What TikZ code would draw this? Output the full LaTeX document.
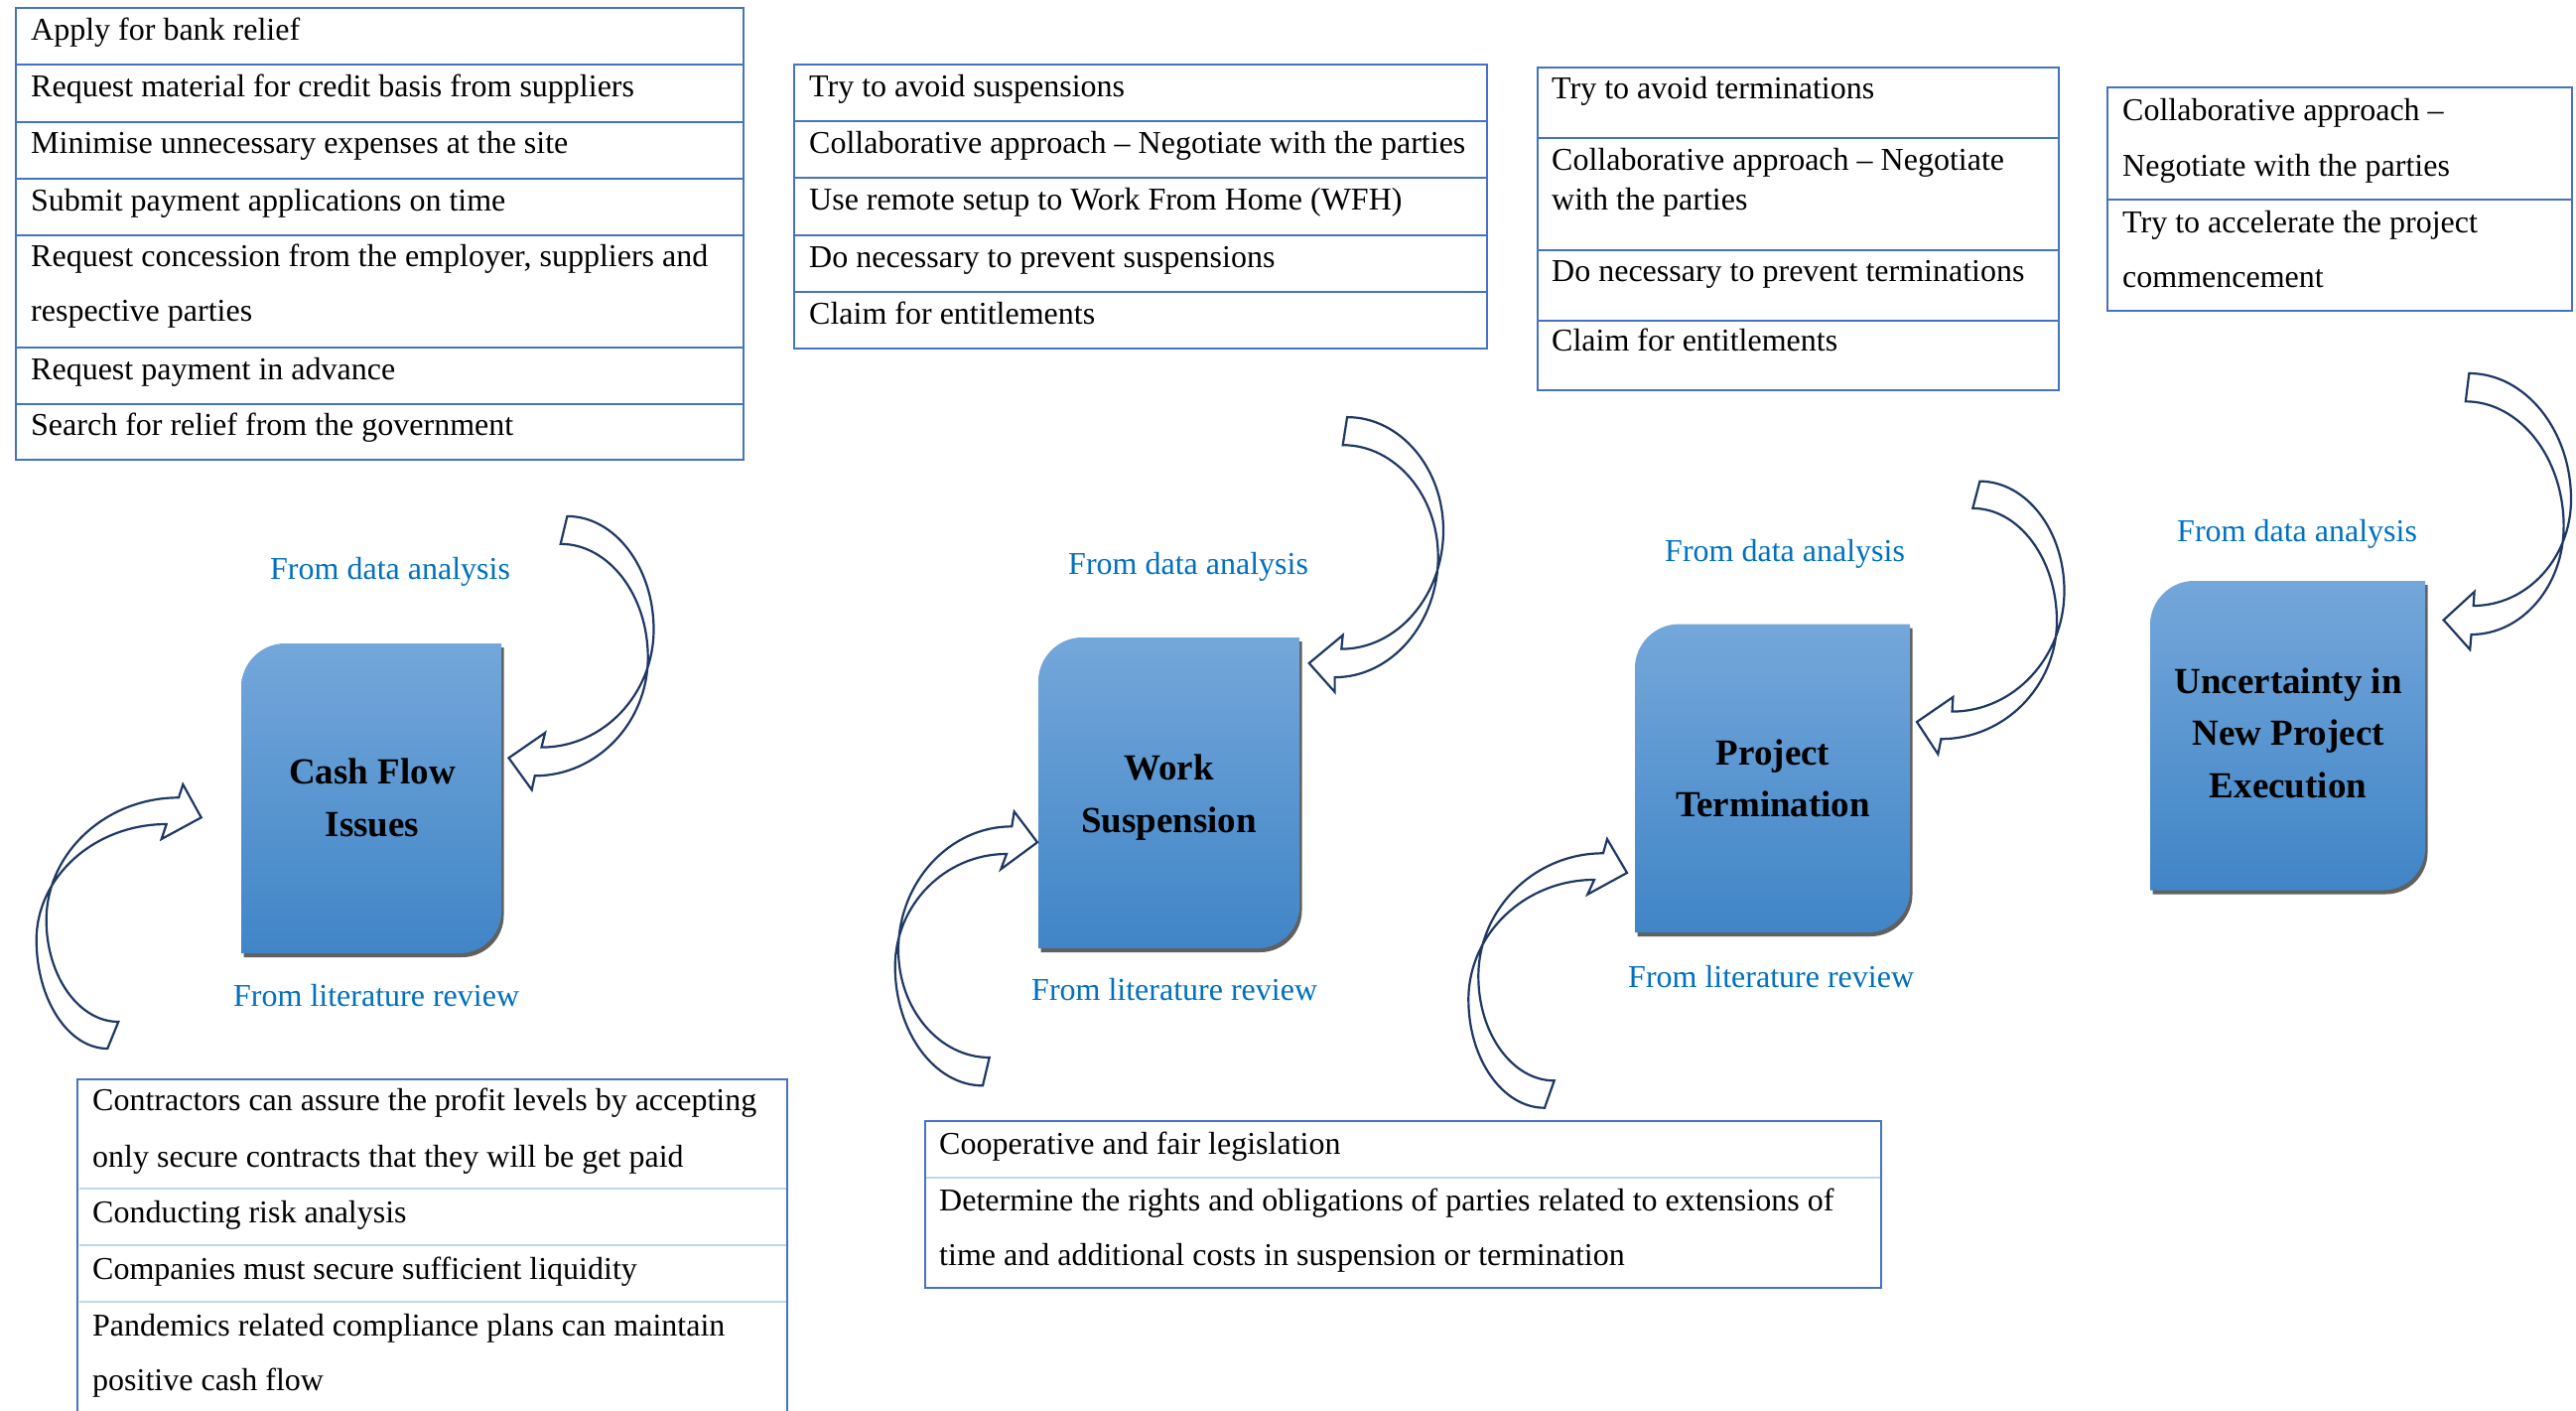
\documentclass[tikz,border=0pt]{standalone}
\usepackage{fontspec}
\setmainfont{Liberation Serif}
\usetikzlibrary{calc}

\definecolor{tblue}{RGB}{68,114,196}
\definecolor{tpale}{RGB}{189,215,238}
\definecolor{lblue}{RGB}{0,112,192}
\definecolor{navy}{RGB}{31,56,100}
\definecolor{btop}{RGB}{116,167,218}
\definecolor{bbot}{RGB}{64,133,199}
\definecolor{shadowgray}{RGB}{96,96,96}

\tikzset{
  celltext/.style={anchor=base west, inner sep=0pt, yshift=-3pt, font=\fontsize{32}{38}\selectfont},
  srclabel/.style={anchor=base west, inner sep=0pt, yshift=-2.5pt, text=lblue, font=\fontsize{32}{38}\selectfont},
  boxtitle/.style={anchor=base, inner sep=0pt, yshift=-2pt, font=\fontsize{37}{44}\selectfont\bfseries},
  frame/.style={draw=tblue, line width=2pt},
  paleline/.style={draw=tpale, line width=2pt},
  curvearrow/.style={draw=navy, line width=2.2pt, line join=miter},
}

% blue issue box: rounded top-left and bottom-right corners, with a drop shadow
% #1,#2 = top-left corner, #3,#4 = bottom-right corner (y grows downwards)
\newcommand\issuebox[4]{%
  \fill[shadowgray, shift={(2.5,4)}]
    (#1,#4) -- (#1,#2+44) .. controls (#1,#2+20) and (#1+20,#2) .. (#1+44,#2)
    -- (#3,#2) -- (#3,#4-42) .. controls (#3,#4-19) and (#3-19,#4) .. (#3-42,#4) -- cycle;
  \shade[top color=btop, bottom color=bbot]
    (#1,#4) -- (#1,#2+44) .. controls (#1,#2+20) and (#1+20,#2) .. (#1+44,#2)
    -- (#3,#2) -- (#3,#4-42) .. controls (#3,#4-19) and (#3-19,#4) .. (#3-42,#4) -- cycle;
}

% hollow curved block arrow
% tail points, outermost points of both edges, shaft joints, barbs and tip
\newcommand\kk{0.55}
\newcommand\curvedarrow[9]{%
  \coordinate (t1) at (#1); \coordinate (t2) at (#2);
  \coordinate (p1) at (#3); \coordinate (p2) at (#4);
  \coordinate (s1) at (#5); \coordinate (b1) at (#6);
  \coordinate (tp) at (#7); \coordinate (b2) at (#8);
  \coordinate (s2) at (#9);
  \coordinate (k1) at (p1|-t1); \coordinate (k2) at (p1|-s1);
  \coordinate (k3) at (p2|-s2); \coordinate (k4) at (p2|-t2);
  \draw[curvearrow] (t1)
    .. controls ($(t1)!\kk!(k1)$) and ($(p1)!\kk!(k1)$) .. (p1)
    .. controls ($(p1)!\kk!(k2)$) and ($(s1)!\kk!(k2)$) .. (s1)
    -- (b1) -- (tp) -- (b2) -- (s2)
    .. controls ($(s2)!\kk!(k3)$) and ($(p2)!\kk!(k3)$) .. (p2)
    .. controls ($(p2)!\kk!(k4)$) and ($(t2)!\kk!(k4)$) .. (t2) -- cycle;
}

\begin{document}
\begin{tikzpicture}[x=1pt, y=-1pt]
\useasboundingbox (0,0) rectangle (2595,1421);
\fill[white] (0,0) rectangle (2595,1421);

% ---------- measures for cash flow issues ----------
\draw[frame] (16,8.3) rectangle (749,463.3);
\foreach \y in {65,122.7,180,236.7,350,406.7} \draw[frame] (16,\y) -- (749,\y);
\node[celltext] (cf1)  at (31,37.3)  {Apply for bank relief};
\node[celltext] (cf2)  at (31,94)    {Request material for credit basis from suppliers};
\node[celltext] (cf3)  at (31,151.7) {Minimise unnecessary expenses at the site};
\node[celltext] (cf4)  at (31,209)   {Submit payment applications on time};
\node[celltext] (cf5a) at (31,265.7) {Request concession from the employer, suppliers and};
\node[celltext] (cf5b) at (31,320.7) {respective parties};
\node[celltext] (cf6)  at (31,379)   {Request payment in advance};
\node[celltext] (cf7)  at (31,435.7) {Search for relief from the government};

% ---------- measures for work suspension ----------
\draw[frame] (800,65) rectangle (1498,350.7);
\foreach \y in {121.7,179.3,236.7,294.3} \draw[frame] (800,\y) -- (1498,\y);
\node[celltext] (ws1) at (815,94.5)  {Try to avoid suspensions};
\node[celltext] (ws2) at (815,151.2) {Collaborative approach -- Negotiate with the parties};
\node[celltext] (ws3) at (815,208.8) {Use remote setup to Work From Home (WFH)};
\node[celltext] (ws4) at (815,266.2) {Do necessary to prevent suspensions};
\node[celltext] (ws5) at (815,323.8) {Claim for entitlements};

% ---------- measures for project termination ----------
\draw[frame] (1549,67.7) rectangle (2074,393.3);
\foreach \y in {139,251.7,322.7} \draw[frame] (1549,\y) -- (2074,\y);
\node[celltext] (pt1)  at (1563,96.5)  {Try to avoid terminations};
\node[celltext] (pt2a) at (1563,168.2) {Collaborative approach -- Negotiate};
\node[celltext] (pt2b) at (1563,208.2) {with the parties};
\node[celltext] (pt3)  at (1563,280)   {Do necessary to prevent terminations};
\node[celltext] (pt4)  at (1563,350.5) {Claim for entitlements};

% ---------- measures for new project execution ----------
\draw[frame] (2123,88.3) rectangle (2591,312.7);
\draw[frame] (2123,200.7) -- (2591,200.7);
\node[celltext] (np1a) at (2138,118.7) {Collaborative approach --};
\node[celltext] (np1b) at (2138,174.5) {Negotiate with the parties};
\node[celltext] (np2a) at (2138,231.5) {Try to accelerate the project};
\node[celltext] (np2b) at (2138,286.5) {commencement};

% ---------- literature measures, cash flow ----------
\draw[frame] (78.4,1430) -- (78.4,1086.7) -- (793,1086.7) -- (793,1430);
\foreach \y in {1197,1254,1311} \draw[paleline] (79.5,\y) -- (792,\y);
\node[celltext] (lc1a) at (93,1115)   {Contractors can assure the profit levels by accepting};
\node[celltext] (lc1b) at (93,1172)   {only secure contracts that they will be get paid};
\node[celltext] (lc2)  at (93,1228.7) {Conducting risk analysis};
\node[celltext] (lc3)  at (93,1285)   {Companies must secure sufficient liquidity};
\node[celltext] (lc4a) at (93,1342)   {Pandemics related compliance plans can maintain};
\node[celltext] (lc4b) at (93,1397)   {positive cash flow};

% ---------- literature measures, suspension and termination ----------
\draw[frame] (931.7,1129.3) rectangle (1895,1297.3);
\draw[paleline] (933,1186) -- (1894,1186);
\node[celltext] (ls1)  at (946,1159.3) {Cooperative and fair legislation};
\node[celltext] (ls2a) at (946,1216)   {Determine the rights and obligations of parties related to extensions of};
\node[celltext] (ls2b) at (946,1271)   {time and additional costs in suspension or termination};

% ---------- issue boxes ----------
\issuebox{243}{648}{505}{960}
\node[boxtitle] (cash1) at (375,787) {Cash Flow};
\node[boxtitle] (cash2) at (375,840) {Issues};

\issuebox{1046}{642}{1309}{955}
\node[boxtitle] (work1) at (1177.5,783) {Work};
\node[boxtitle] (work2) at (1177.5,836) {Suspension};

\issuebox{1647}{628.6}{1924}{939}
\node[boxtitle] (term1) at (1786,768.3) {Project};
\node[boxtitle] (term2) at (1786,820.5) {Termination};

\issuebox{2166}{585}{2443}{896.5}
\node[boxtitle] (unc1) at (2305,696) {Uncertainty in};
\node[boxtitle] (unc2) at (2305,748) {New Project};
\node[boxtitle] (unc3) at (2305,801) {Execution};

% ---------- source labels ----------
\node[srclabel] (da1) at (272,581)    {From data analysis};
\node[srclabel] (lr1) at (235,1011)   {From literature review};
\node[srclabel] (da2) at (1076,576)   {From data analysis};
\node[srclabel] (lr2) at (1039,1005)  {From literature review};
\node[srclabel] (da3) at (1677,563)   {From data analysis};
\node[srclabel] (lr3) at (1640,991.5) {From literature review};
\node[srclabel] (da4) at (2193,543)   {From data analysis};

% ---------- curved arrows ----------
% from data analysis (enter from the right)
\curvedarrow{571.4,519.9}{564.7,547.8}{658.5,634}{652.7,662}{545.5,752.6}{549.1,738}{512.5,763.3}{535.7,795.4}{538.8,781.3}
\curvedarrow{1357.1,420.1}{1352.7,448.2}{1454,534}{1448.7,560.7}{1351.3,653.6}{1352.7,639.7}{1318.75,667.9}{1344.6,696.9}{1344.6,682.1}
\curvedarrow{1994.4,484.7}{1987.3,511.9}{2079.5,595}{2072,625.5}{1966.5,716.6}{1967.4,702}{1931,727}{1952.3,759.5}{1955.4,744.2}
\curvedarrow{2487.3,376}{2483.8,404.3}{2590,503}{2582.6,530}{2491.7,610}{2492.6,596}{2461.6,624.4}{2488.2,654.2}{2489.5,639}
% from literature review (enter from the left)
\curvedarrow{108.3,1056}{119.3,1029}{36.7,946.7}{46.7,926.7}{167.7,830}{162.7,845}{202.7,823.3}{184.3,790}{180,803.3}
\curvedarrow{990,1093.3}{996.7,1065}{901.7,973.3}{905,956.7}{1014,860}{1008.3,875.3}{1045,848.3}{1021.7,817.3}{1019.3,832.3}
\curvedarrow{1556,1115.7}{1565.7,1088.3}{1479.3,1006.7}{1489.3,983.3}{1606,886}{1599.3,900.7}{1639,879}{1619,845}{1615,859.3}

\end{tikzpicture}
\end{document}
